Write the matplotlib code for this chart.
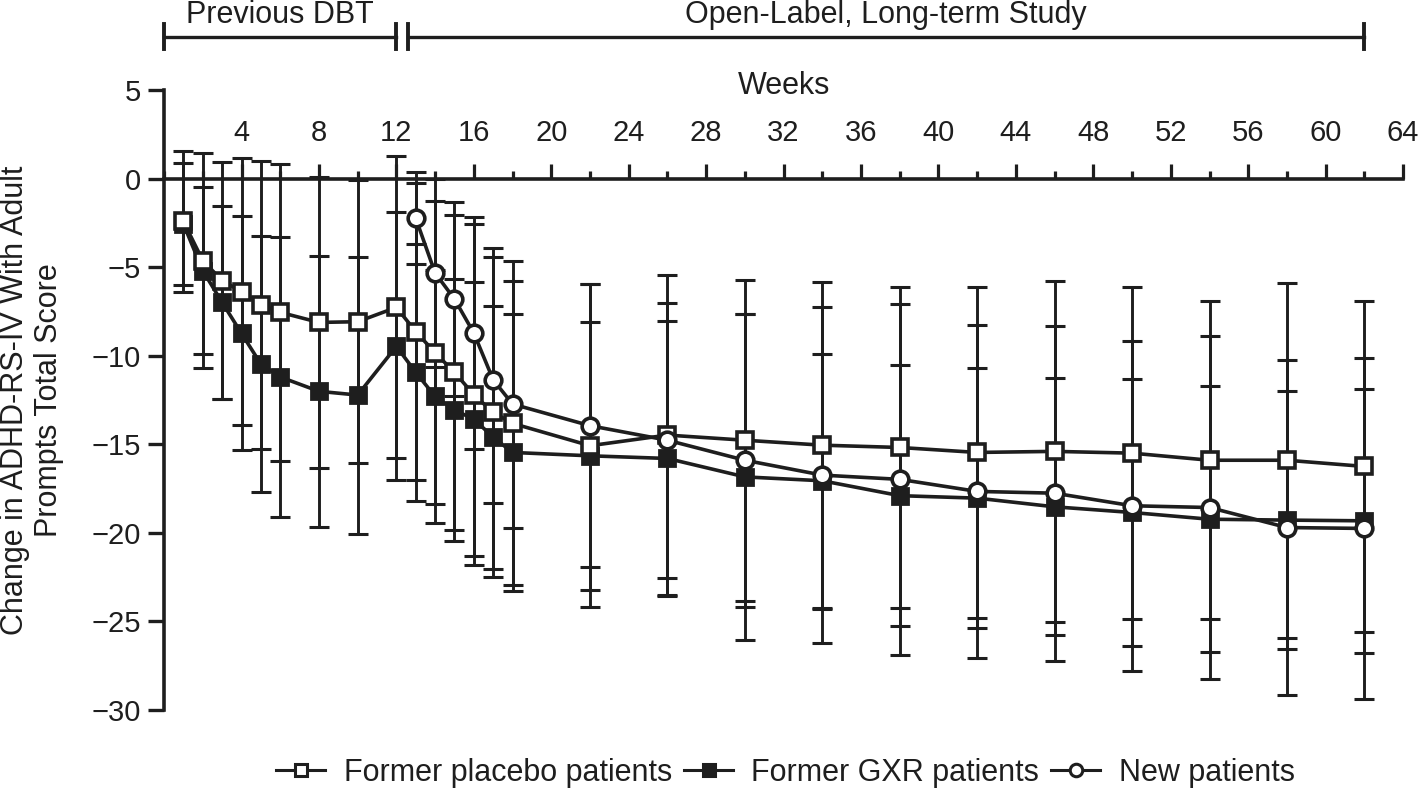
import matplotlib
matplotlib.use('Agg')
import matplotlib.pyplot as plt
from matplotlib.lines import Line2D
from matplotlib.ticker import MultipleLocator

plt.rcParams['font.family'] = ['Liberation Sans', 'DejaVu Sans']

ink = '#1e1e1e'

# weeks for the two former-DBT groups (double-blind part + open-label)
weeks = [1, 2, 3, 4, 5, 6, 8, 10, 12, 13, 14, 15, 16, 17, 18,
         22, 26, 30, 34, 38, 42, 46, 50, 54, 58, 62]
placebo_mean = [-2.42, -4.63, -5.76, -6.38, -7.12, -7.55, -8.12, -8.08, -7.27,
                -8.64, -9.83, -10.94, -12.2, -13.2, -13.82, -15.08, -14.48,
                -14.77, -15.05, -15.18, -15.46, -15.4, -15.5, -15.9, -15.9, -16.25]
placebo_sd = [4.0, 6.05, 6.68, 7.55, 8.14, 8.38, 8.2, 7.99, 8.53,
              8.38, 8.55, 8.91, 9.64, 9.28, 9.15, 9.13, 9.04,
              9.06, 9.23, 9.08, 9.36, 9.64, 9.36, 8.97, 10.01, 9.36]
gxr_mean = [-2.56, -5.2, -6.99, -8.74, -10.47, -11.2, -12.01, -12.22, -9.47,
            -10.94, -12.3, -13.07, -13.58, -14.6, -15.46, -15.65, -15.8,
            -16.84, -17.06, -17.9, -18.04, -18.53, -18.85, -19.23, -19.28, -19.32]
gxr_sd = [3.43, 4.7, 5.46, 6.61, 7.21, 7.88, 7.66, 7.82, 7.57,
          7.27, 7.16, 7.4, 7.72, 7.42, 7.82, 7.57, 7.78,
          9.2, 7.16, 7.37, 7.34, 7.25, 7.51, 7.52, 7.3, 7.46]

# new patients only in the open-label study
new_weeks = [13, 14, 15, 16, 17, 18, 22, 26, 30, 34, 38, 42, 46, 50, 54, 58, 62]
new_mean = [-2.24, -5.33, -6.8, -8.72, -11.36, -12.73, -13.95, -14.77,
            -15.9, -16.74, -16.98, -17.66, -17.76, -18.47, -18.57, -19.7, -19.75]
new_sd = [2.6, 5.3, 5.5, 6.55, 6.96, 6.97, 8.0, 7.75,
          8.26, 9.47, 9.9, 9.39, 9.45, 9.32, 9.68, 9.46, 9.62]

dbt_period = (0, 12)
ol_period = (12.6, 62)

fig = plt.figure(figsize=(14.18, 7.91), dpi=100)
ax = fig.add_axes([0.1157, 0.1024, 0.8738, 0.7838])

eb = dict(fmt='none', ecolor=ink, elinewidth=2.1, capsize=7.5, capthick=2.2, zorder=2)
ax.errorbar(weeks, placebo_mean, yerr=placebo_sd, **eb)
ax.errorbar(weeks, gxr_mean, yerr=gxr_sd, **eb)
ax.errorbar(new_weeks, new_mean, yerr=new_sd, **eb)

ax.plot(weeks, gxr_mean, color=ink, lw=2.6, marker='s', ms=12, mfc=ink, mec=ink, mew=2, zorder=3)
ax.plot(weeks, placebo_mean, color=ink, lw=2.6, marker='s', ms=11.5, mfc='white', mec=ink, mew=2.6, zorder=4)
ax.plot(new_weeks, new_mean, color=ink, lw=2.6, marker='o', ms=12, mfc='white', mec=ink, mew=2.6, zorder=5)

ax.set_xlim(0, 64)
ax.set_ylim(-30, 5)

# x axis sits on the zero line, ticks and labels above it
ax.spines['top'].set_position(('data', 0))
ax.spines['bottom'].set_visible(False)
ax.spines['right'].set_visible(False)
for s in ('top', 'left'):
    ax.spines[s].set_linewidth(2.6)
    ax.spines[s].set_color(ink)
ax.xaxis.tick_top()
ax.xaxis.set_major_locator(MultipleLocator(4))
ax.xaxis.set_minor_locator(MultipleLocator(2))
ax.set_xticks(range(4, 65, 4))
ax.set_yticks(range(-30, 6, 5))
ax.tick_params(axis='x', which='major', direction='out', length=11, width=2.3, colors=ink,
               labelsize=21, pad=12)
ax.tick_params(axis='x', which='minor', direction='out', length=5.5, width=2.3, colors=ink)
ax.tick_params(axis='y', direction='out', length=11.5, width=2.4, colors=ink, labelsize=21, pad=5)
ax.xaxis.set_label_position('top')
ax.set_xlabel('Weeks', fontsize=22, labelpad=18, color=ink)
ax.set_ylabel('Change in ADHD-RS-IV With Adult\nPrompts Total Score', fontsize=22,
              color=ink, labelpad=20, linespacing=1.15)

# period brackets above the plot
yb, cap = 8.0, 0.7
for (a, b), name in [(dbt_period, 'Previous DBT'), (ol_period, 'Open-Label, Long-term Study')]:
    ax.plot([a, b], [yb, yb], color=ink, lw=2.4, clip_on=False)
    for xx in (a, b):
        ax.plot([xx, xx], [yb - cap, yb + cap], color=ink, lw=2.8, clip_on=False)
    ax.text((a + b) / 2, yb + 0.8, name, ha='center', va='baseline', fontsize=22,
            color=ink, clip_on=False)

handles = [
    Line2D([], [], color=ink, lw=2.2, marker='s', ms=9, mfc='white', mec=ink, mew=2.2),
    Line2D([], [], color=ink, lw=2.2, marker='s', ms=9, mfc=ink, mec=ink, mew=2.2),
    Line2D([], [], color=ink, lw=2.2, marker='o', ms=9, mfc='white', mec=ink, mew=2.2),
]
fig.legend(handles, ['Former placebo patients', 'Former GXR patients', 'New patients'],
           loc='center', bbox_to_anchor=(0.554, 0.023), ncol=3, frameon=False,
           fontsize=22, handlelength=1.6, handletextpad=0.6, columnspacing=0.4,
           labelcolor=ink)

fig.savefig('out.png', dpi=100)
